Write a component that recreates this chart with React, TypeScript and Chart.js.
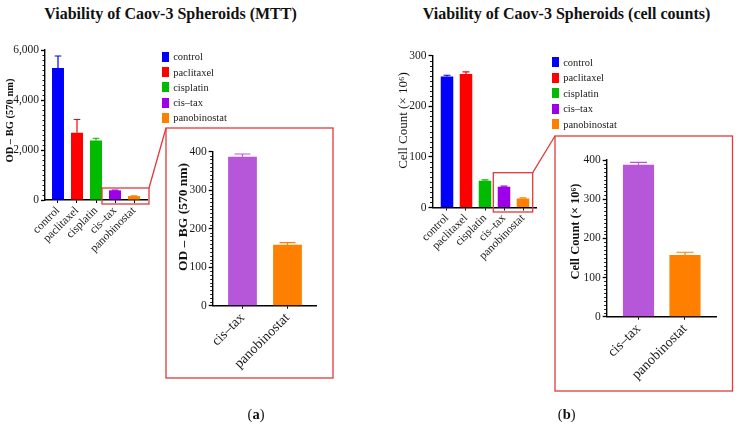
import React, { useEffect, useRef } from 'react';
import { Chart, registerables } from 'chart.js';

Chart.register(...registerables);

// ---------- data ----------
const categories = ['control', 'paclitaxel', 'cisplatin', 'cis–tax', 'panobinostat'];
const insetCategories = ['cis–tax', 'panobinostat'];

const mttValues = [5280, 2690, 2380, 387, 158];
const mttErrors = [480, 530, 90, 7, 6];

const countValues = [258.5, 263.5, 53, 41, 18];
const countErrors = [2.5, 4, 1.5, 1, 1];

const insetMttValues = [387, 158];
const insetMttErrors = [7, 6];

const insetCountValues = [388, 157.5];
const insetCountErrors = [6, 7];

const mainColors = ['#0000ff', '#ff0000', '#00bb00', '#9d00e8', '#ff8000'];
const insetColors = ['#b656d8', '#ff8000'];

// ---------- layout ----------
const W = 739;
const H = 425;
const FONT = '"Liberation Serif", "Times New Roman", serif';
const RED = '#e03a3a';

type Spec = {
  labels: string[];
  values: number[];
  errors: number[];
  colors: string[];
  xMin: number;
  xMax: number;
  yMax: number;
  major: number;
  minor: number;
  area: { left: number; right: number; top: number; bottom: number };
  yWidth: number;
  xHeight: number;
  tickFont: number;
  xFont: number;
  barPct: number;
  format: (v: number) => string;
  title: { text: string; x: number; y: number; size: number; bold: boolean };
};

const makeErrorBars = (errors: number[], colors: string[]) => ({
  id: 'errorBars',
  afterDatasetsDraw(chart: any) {
    const { ctx } = chart;
    const y = chart.scales.y;
    const meta = chart.getDatasetMeta(0);
    const ds = chart.data.datasets[0];
    ctx.save();
    meta.data.forEach((bar: any, i: number) => {
      const v = (ds.data[i] as any).y;
      const top = y.getPixelForValue(v + errors[i]);
      const base = y.getPixelForValue(v);
      const half = (bar.width * 0.55) / 2;
      ctx.strokeStyle = colors[i];
      ctx.lineWidth = 1.2;
      ctx.beginPath();
      ctx.moveTo(bar.x, base);
      ctx.lineTo(bar.x, top);
      ctx.moveTo(bar.x - half, top);
      ctx.lineTo(bar.x + half, top);
      ctx.stroke();
    });
    ctx.restore();
  },
});

// short minor ticks on the y axis (majors are drawn by Chart.js itself)
const makeMinorTicks = (major: number) => ({
  id: 'minorTicks',
  afterDraw(chart: any) {
    const y = chart.scales.y;
    const ctx = chart.ctx;
    const x0 = chart.chartArea.left;
    ctx.save();
    ctx.strokeStyle = '#000';
    ctx.lineWidth = 0.9;
    ctx.beginPath();
    y.ticks.forEach((t: any) => {
      if (Math.round(t.value) % major === 0) return;
      const py = Math.round(y.getPixelForValue(t.value)) + 0.5;
      ctx.moveTo(x0 - 2.5, py);
      ctx.lineTo(x0, py);
    });
    ctx.stroke();
    ctx.restore();
  },
});

const makeYTitle = (t: Spec['title']) => ({
  id: 'yTitle',
  afterDraw(chart: any) {
    const ctx = chart.ctx;
    ctx.save();
    ctx.translate(t.x, t.y);
    ctx.rotate(-Math.PI / 2);
    ctx.font = `${t.bold ? 'bold ' : ''}${t.size}px ${FONT}`;
    ctx.fillStyle = '#111';
    ctx.textAlign = 'center';
    ctx.textBaseline = 'middle';
    ctx.fillText(t.text, 0, 0);
    ctx.restore();
  },
});

function makeConfig(s: Spec): any {
  return {
    type: 'bar',
    data: {
      datasets: [
        {
          data: s.labels.map((_, i) => ({ x: i, y: s.values[i] })),
          backgroundColor: s.colors,
          borderWidth: 0,
          categoryPercentage: 1,
          barPercentage: s.barPct,
        },
      ],
    },
    options: {
      responsive: false,
      animation: false,
      events: [],
      layout: {
        padding: {
          left: s.area.left - s.yWidth,
          right: W - s.area.right,
          top: s.area.top,
          bottom: H - s.area.bottom - s.xHeight,
        },
      },
      plugins: { legend: { display: false }, tooltip: { enabled: false } },
      scales: {
        x: {
          type: 'linear',
          min: s.xMin,
          max: s.xMax,
          offset: false,
          afterBuildTicks: (sc: any) => {
            sc.ticks = s.labels.map((_, i) => ({ value: i }));
          },
          afterFit: (sc: any) => {
            sc.height = s.xHeight;
          },
          ticks: {
            autoSkip: false,
            minRotation: 45,
            maxRotation: 45,
            padding: 1,
            color: '#1a1a1a',
            font: { family: FONT, size: s.xFont },
            callback: (v: any) => s.labels[v] ?? '',
          },
          grid: {
            offset: false,
            drawOnChartArea: false,
            drawTicks: true,
            tickLength: 3,
            tickColor: '#000',
            tickWidth: 1,
          },
          border: { display: true, color: '#000', width: 1.4 },
        },
        y: {
          type: 'linear',
          min: 0,
          max: s.yMax,
          afterBuildTicks: (sc: any) => {
            const t: any[] = [];
            const n = Math.round(s.yMax / s.minor);
            for (let i = 0; i <= n; i++) t.push({ value: i * s.minor });
            sc.ticks = t;
          },
          afterFit: (sc: any) => {
            sc.width = s.yWidth;
          },
          ticks: {
            autoSkip: false,
            padding: 2,
            color: '#1a1a1a',
            font: { family: FONT, size: s.tickFont },
            callback: (v: any) => (Math.round(v) % s.major === 0 ? s.format(v) : ''),
          },
          grid: {
            drawOnChartArea: false,
            drawTicks: true,
            tickLength: 4,
            tickColor: (c: any) =>
              c.tick && Math.round(c.tick.value) % s.major === 0 ? '#000' : 'rgba(0,0,0,0)',
            tickWidth: 1.3,
          },
          border: { display: true, color: '#000', width: 1.4 },
        },
      },
    },
    plugins: [makeErrorBars(s.errors, s.colors), makeMinorTicks(s.major), makeYTitle(s.title)],
  };
}

const fmt = (v: number) => v.toLocaleString('en-US');

const specs: Spec[] = [
  {
    labels: categories,
    values: mttValues,
    errors: mttErrors,
    colors: mainColors,
    xMin: -0.684,
    xMax: 4.684,
    yMax: 6000,
    major: 2000,
    minor: 200,
    area: { left: 45, right: 147, top: 50, bottom: 200 },
    yWidth: 40,
    xHeight: 60,
    tickFont: 11.5,
    xFont: 11.5,
    barPct: 0.63,
    format: fmt,
    title: { text: 'OD – BG (570 nm)', x: 10, y: 120.5, size: 10.5, bold: true },
  },
  {
    labels: categories,
    values: countValues,
    errors: countErrors,
    colors: mainColors,
    xMin: -0.763,
    xMax: 4.684,
    yMax: 300,
    major: 100,
    minor: 10,
    area: { left: 432.5, right: 536, top: 55.5, bottom: 207.5 },
    yWidth: 40,
    xHeight: 60,
    tickFont: 11.5,
    xFont: 11.5,
    barPct: 0.66,
    format: fmt,
    title: { text: 'Cell Count (× 10⁶)', x: 404, y: 120.5, size: 13, bold: false },
  },
  {
    labels: insetCategories,
    values: insetMttValues,
    errors: insetMttErrors,
    colors: insetColors,
    xMin: -0.662,
    xMax: 1.656,
    yMax: 400,
    major: 100,
    minor: 10,
    area: { left: 212.7, right: 317, top: 151.7, bottom: 305.7 },
    yWidth: 40,
    xHeight: 70,
    tickFont: 11.5,
    xFont: 14,
    barPct: 0.64,
    format: fmt,
    title: { text: 'OD – BG (570 nm)', x: 183.7, y: 217, size: 13.5, bold: true },
  },
  {
    labels: insetCategories,
    values: insetCountValues,
    errors: insetCountErrors,
    colors: insetColors,
    xMin: -0.684,
    xMax: 1.682,
    yMax: 400,
    major: 100,
    minor: 10,
    area: { left: 606.7, right: 716.7, top: 160, bottom: 316.7 },
    yWidth: 40,
    xHeight: 70,
    tickFont: 11.5,
    xFont: 14,
    barPct: 0.67,
    format: fmt,
    title: { text: 'Cell Count (× 10⁶)', x: 576, y: 231.5, size: 12.5, bold: true },
  },
];

function BarCanvas({ spec }: { spec: Spec }) {
  const ref = useRef<HTMLCanvasElement | null>(null);
  useEffect(() => {
    if (!ref.current) return;
    const chart = new Chart(ref.current, makeConfig(spec));
    return () => chart.destroy();
  }, [spec]);
  return (
    <canvas
      ref={ref}
      width={W}
      height={H}
      style={{ position: 'absolute', left: 0, top: 0, width: W, height: H }}
    />
  );
}

function Legend({ x, y0, step }: { x: number; y0: number; step: number }) {
  return (
    <>
      {categories.map((c, i) => (
        <div
          key={c}
          style={{
            position: 'absolute',
            left: x,
            top: y0 + i * step - 6,
            height: 12,
            display: 'flex',
            alignItems: 'center',
            fontFamily: FONT,
            fontSize: 10.5,
            color: '#1a1a1a',
            whiteSpace: 'nowrap',
          }}
        >
          <span
            style={{ display: 'inline-block', width: 7, height: 10, background: mainColors[i], marginRight: 4.5 }}
          />
          {c}
        </div>
      ))}
    </>
  );
}

function Title({ text, cx }: { text: string; cx: number }) {
  return (
    <div
      style={{
        position: 'absolute',
        left: cx - 200,
        width: 400,
        top: 4,
        lineHeight: '19px',
        textAlign: 'center',
        fontFamily: FONT,
        fontWeight: 'bold',
        fontSize: 16,
        color: '#111',
        whiteSpace: 'nowrap',
      }}
    >
      {text}
    </div>
  );
}

function PanelLabel({ letter, cx }: { letter: string; cx: number }) {
  return (
    <div
      style={{
        position: 'absolute',
        left: cx - 30,
        width: 60,
        top: 405,
        lineHeight: '18px',
        textAlign: 'center',
        fontFamily: FONT,
        fontSize: 14.5,
        color: '#111',
      }}
    >
      (<b>{letter}</b>)
    </div>
  );
}

export default function App() {
  useEffect(() => {
    document.body.style.margin = '0';
    document.body.style.overflow = 'hidden';
  }, []);
  return (
    <div style={{ position: 'relative', width: W, height: H, background: '#fff', overflow: 'hidden' }}>
      <Title text="Viability of Caov-3 Spheroids (MTT)" cx={170.5} />
      <Title text="Viability of Caov-3 Spheroids (cell counts)" cx={566.5} />
      {specs.map((s, i) => (
        <BarCanvas key={i} spec={s} />
      ))}
      <Legend x={161.7} y0={56.7} step={15.3} />
      <Legend x={551.7} y0={62.3} step={15.5} />
      <svg width={W} height={H} style={{ position: 'absolute', left: 0, top: 0, pointerEvents: 'none' }}>
        <g fill="none" stroke={RED} strokeWidth={1.3}>
          <rect x={102} y={188} width={47} height={16} />
          <line x1={149} y1={188} x2={166} y2={128} />
          <rect x={166} y={128} width={167} height={250} />
          <rect x={493.3} y={172.7} width={39.4} height={39.3} />
          <line x1={532.7} y1={172.7} x2={555} y2={136} />
          <rect x={555} y={136} width={177.5} height={255} />
        </g>
      </svg>
      <PanelLabel letter="a" cx={256} />
      <PanelLabel letter="b" cx={566.7} />
    </div>
  );
}
